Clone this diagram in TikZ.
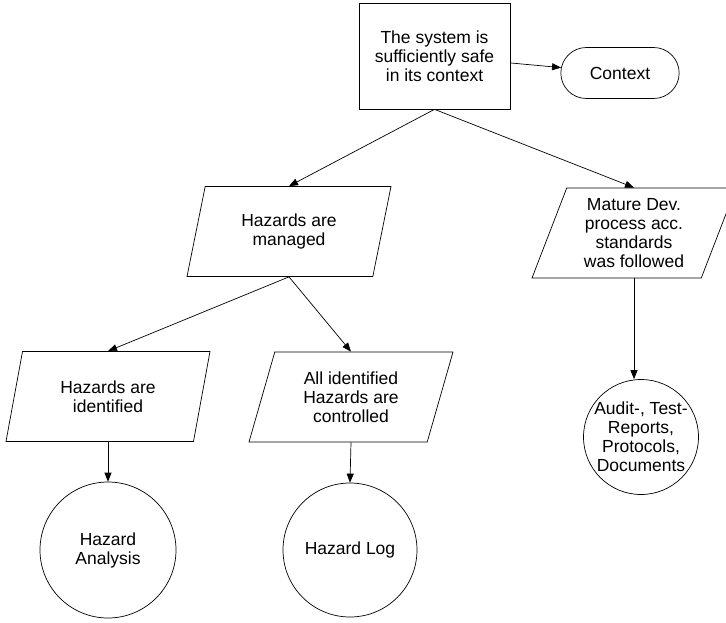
\documentclass[tikz,border=0pt]{standalone}
\usepackage{fontspec}
\setmainfont{Liberation Sans}
\usetikzlibrary{shapes.geometric,shapes.misc,arrows.meta}
\begin{document}
\begin{tikzpicture}[x=1pt,y=-1pt,
  every node/.style={font=\fontsize{17.5}{19}\selectfont, align=center, line width=0.7pt},
  goal/.style={draw, rectangle, minimum width=151pt, minimum height=106pt, inner sep=2pt},
  ctx/.style={draw, rounded rectangle, minimum width=125pt, minimum height=51pt},
  claim/.style={draw, trapezium, trapezium left angle=64, trapezium right angle=116,
    trapezium stretches body, minimum width=204pt, minimum height=90pt, inner sep=1pt},
  evidence/.style={draw, circle, inner sep=-8pt},
  link/.style={line width=0.7pt, -{Triangle[length=9pt,width=7pt]}}]
\useasboundingbox (0,0) rectangle (726,622);

% top goal and its context
\node[goal] (top) at (434.5,56) {The system is\\sufficiently safe\\in its context};
\node[ctx] (context) at (620,73) {Context};

% sub-claims
\node[claim] (managed) at (289,231.5) {Hazards are\\managed};
\node[claim] (mature) at (634,233) {Mature Dev.\\process acc.\\standards\\was followed};
\node[claim] (identified) at (108,396.5) {Hazards are\\identified};
\node[claim] (controlled) at (351,397) {All identified\\Hazards are\\controlled};

% evidence
\node[evidence, minimum size=136pt] (analysis) at (108,550) {Hazard\\Analysis};
\node[evidence, minimum size=134pt] (hazlog) at (350,550) {Hazard Log};
\node[evidence, minimum size=115pt] (docs) at (641,437) {Audit-, Test-\\Reports,\\Protocols,\\Documents};

% connectors
\draw[link] (top) -- (context);
\draw[link] (top.south) -- (managed.center |- managed.north);
\draw[link] (top.south) -- (mature.center |- mature.north);
\draw[link] (managed.center |- managed.south) -- (identified.center |- identified.north);
\draw[link] (managed.center |- managed.south) -- (controlled.center |- controlled.north);
\draw[link] (identified.center |- identified.south) -- (analysis.north);
\draw[link] (controlled.center |- controlled.south) -- (hazlog.north);
\draw[link] (mature.center |- mature.south) -- (mature.center |- docs.north);
\end{tikzpicture}
\end{document}
